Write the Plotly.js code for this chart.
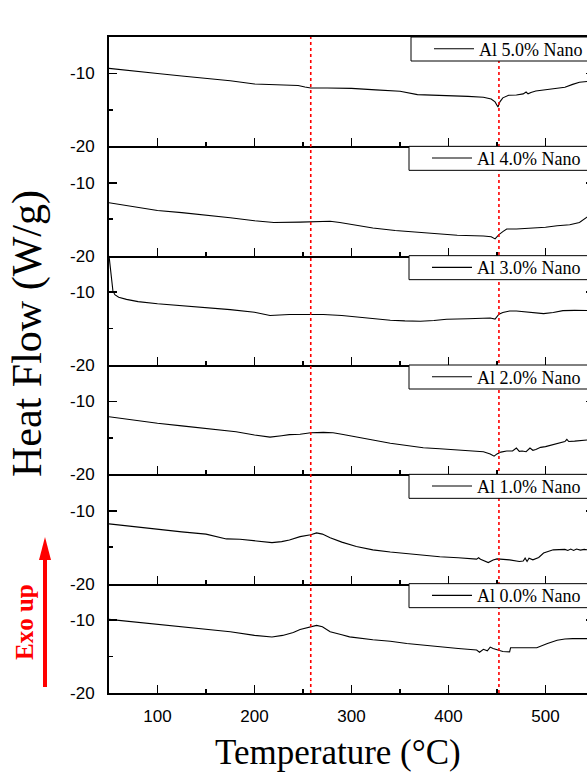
<!DOCTYPE html>
<html>
<head>
<meta charset="utf-8">
<script src="https://cdn.plot.ly/plotly-3.0.1.min.js"></script>
<style>
html, body { margin: 0; padding: 0; overflow: hidden; background: #fff; }
#chart { width: 600px; height: 772px; }
</style>
</head>
<body>
<div id="chart"></div>
<script>
// ---- data ----
const seriesNames = ["Al 0.0% Nano", "Al 1.0% Nano", "Al 2.0% Nano", "Al 3.0% Nano", "Al 4.0% Nano", "Al 5.0% Nano"];

const x00 = [50,75,100,125,150,175,200,218,229,240,247,258,264,270,278,290,298,322,340,357,374,391,410,429,432,436,440,443,446,451,456,463,464,470,480,491,502,512,520,528,543,550];
const y00 = [-9.9,-10.25,-10.6,-10.9,-11.2,-11.6,-12.1,-12.32,-12.1,-11.7,-11.3,-10.86,-10.72,-10.9,-11.6,-12.0,-12.3,-12.7,-12.9,-13.2,-13.45,-13.7,-13.9,-14.1,-14.4,-14.0,-14.2,-13.7,-13.9,-14.1,-14.3,-14.36,-13.8,-13.8,-13.8,-13.8,-13.2,-12.77,-12.6,-12.54,-12.54,-12.5];

const x10 = [50,75,100,125,150,171,185,200,218,228,236,247,258,264,270,278,290,305,322,340,357,374,391,410,425,429,431,433,441,446,450,463,473,477,479,481,483,487,493,498,508,515,520,523,526,529,532,536,540,543,550];
const y10 = [-11.8,-12.2,-12.6,-12.9,-13.2,-13.86,-13.9,-14.13,-14.37,-14.23,-14.0,-13.55,-13.3,-13.04,-13.2,-13.7,-14.3,-14.9,-15.36,-15.65,-15.9,-16.1,-16.3,-16.45,-16.6,-16.63,-16.45,-16.65,-17.1,-16.75,-16.6,-16.73,-16.95,-16.9,-16.5,-16.95,-16.5,-16.73,-16.4,-15.8,-15.36,-15.27,-15.3,-15.45,-15.25,-15.45,-15.25,-15.4,-15.3,-15.35,-15.3];

const x20 = [50,75,100,125,150,181,200,216,228,236,247,258,271,281,290,305,322,340,357,374,391,409,425,436,443,447,450,454,460,466,470,473,476,480,484,487,490,495,500,512,520,522,524,530,543,550];
const y20 = [-12.1,-12.6,-13.0,-13.35,-13.7,-14.16,-14.6,-14.9,-14.7,-14.55,-14.5,-14.3,-14.24,-14.3,-14.5,-14.84,-15.3,-15.74,-16.05,-16.35,-16.5,-16.66,-16.8,-16.9,-17.2,-17.5,-17.2,-16.95,-16.8,-16.8,-16.4,-16.85,-16.8,-16.9,-16.4,-16.7,-16.6,-16.3,-16.2,-15.75,-15.5,-15.2,-15.5,-15.45,-15.3,-15.2];

const x30 = [50,52,54,56,60,68,80,100,125,150,175,200,216,236,260,271,290,305,322,340,355,371,385,398,420,443,448,450,452,456,463,470,477,490,498,508,518,530,543,550];
const y30 = [-5.0,-7.5,-9.8,-10.35,-10.7,-11.0,-11.3,-11.6,-11.85,-12.1,-12.4,-12.77,-13.2,-13.08,-13.05,-13.08,-13.2,-13.4,-13.6,-13.86,-13.95,-14.0,-13.9,-13.73,-13.65,-13.55,-13.7,-13.4,-13.04,-12.8,-12.6,-12.6,-12.67,-12.85,-12.95,-12.8,-12.54,-12.5,-12.54,-12.55];

const x40 = [50,75,100,125,150,175,200,220,247,265,278,288,300,322,345,367,390,409,436,444,448,450,452,456,460,470,477,490,500,512,525,535,540,543,550];
const y40 = [-12.73,-13.3,-13.8,-14.1,-14.4,-14.8,-15.2,-15.45,-15.4,-15.3,-15.27,-15.46,-15.7,-16.2,-16.55,-16.8,-17.0,-17.2,-17.3,-17.4,-17.7,-17.4,-17.1,-16.7,-16.35,-16.35,-16.3,-16.2,-16.1,-15.9,-15.75,-15.45,-14.9,-14.7,-14.6];

const x50 = [50,75,100,125,150,175,200,225,245,252,258,275,300,325,350,368,400,420,436,444,448,450,451,453,456,462,470,477,480,482,485,490,497,505,512,520,528,535,543,550];
const y50 = [-9.3,-9.7,-10.0,-10.35,-10.65,-11.0,-11.45,-11.6,-11.65,-11.85,-12.0,-12.0,-12.05,-12.25,-12.45,-12.9,-13.0,-13.15,-13.27,-13.5,-13.9,-14.4,-14.6,-13.9,-13.35,-13.0,-12.95,-12.8,-12.55,-12.8,-12.6,-12.4,-12.26,-12.15,-12.0,-11.9,-11.5,-11.2,-11.1,-11.0];

const xsAll = [x00, x10, x20, x30, x40, x50];
const ysAll = [y00, y10, y20, y30, y40, y50];

const xTickVals = [100, 200, 300, 400, 500];
const xMinorVals = [150, 250, 350, 450];
const yTickVals = [-20, -10];
const yTickText = ["-20", "-10"];
const yMinorVals = [-15];
const markerTemps = [258, 452];   // red dotted reference lines
const xRange = [50, 550];
const yRange = [-20, -5];

// ---- layout geometry ----
const W = 600, H = 772;
const mL = 109, mR = 6, mT = 37, mB = 79;
const plotW = W - mL - mR, plotH = H - mT - mB;
const nP = 6;
const px2x = p => (p - mL) / plotW;
const py2y = p => (H - mB - p) / plotH;

const tickFont = { family: "Liberation Sans, Arial, sans-serif", size: 17, color: "#000" };
const serif = "Liberation Serif, Times New Roman, serif";

const traces = [];
const layout = {
  width: W, height: H,
  margin: { l: mL, r: mR, t: mT, b: mB, pad: 0 },
  paper_bgcolor: "#fff", plot_bgcolor: "#fff",
  showlegend: true,
  shapes: [], annotations: []
};

for (let i = 0; i < nP; i++) {
  const sfx = i === 0 ? "" : String(i + 1);
  const dom = [i / nP, (i + 1) / nP];
  const legName = i === 0 ? "legend" : "legend" + (i + 1);
  traces.push({
    type: "scatter", mode: "lines",
    x: xsAll[i], y: ysAll[i],
    name: seriesNames[i],
    xaxis: "x" + sfx, yaxis: "y" + sfx,
    line: { color: "#000", width: 1.1 },
    legend: legName,
    hoverinfo: "skip"
  });
  layout["xaxis" + sfx] = {
    domain: [0, 1], anchor: "y" + sfx, range: xRange,
    showline: true, linecolor: "#000", linewidth: 2, mirror: i === nP - 1,
    showgrid: false, zeroline: false,
    ticks: "inside", ticklen: 8, tickwidth: 1.5, tickcolor: "#000",
    tickmode: "array", tickvals: xTickVals,
    minor: { tickmode: "array", tickvals: xMinorVals, ticks: "inside", ticklen: 4, tickwidth: 1.5, tickcolor: "#000", showgrid: false },
    showticklabels: i === 0, tickfont: tickFont, ticklabelstandoff: 7
  };
  layout["yaxis" + sfx] = {
    domain: dom, anchor: "x" + sfx, range: yRange,
    showline: true, linecolor: "#000", linewidth: 2, mirror: "ticks",
    showgrid: false, zeroline: false,
    ticks: "inside", ticklen: 8, tickwidth: 1.5, tickcolor: "#000",
    tickmode: "array", tickvals: yTickVals, ticktext: yTickText,
    minor: { tickmode: "array", tickvals: yMinorVals, ticks: "inside", ticklen: 4, tickwidth: 1.5, tickcolor: "#000", showgrid: false },
    tickfont: tickFont, ticklabelstandoff: 9
  };
  // legend box + legend
  const topY = dom[1];
  const boxL = i === nP - 1 ? 411 : 409;
  layout.shapes.push({
    type: "rect", xref: "paper", yref: "paper",
    x0: px2x(boxL), x1: 1.05, y0: topY - 24 / plotH, y1: topY,
    line: { color: "#000", width: 1 }, fillcolor: "#fff", layer: "above"
  });
  layout[legName] = {
    x: px2x(boxL + 18), xanchor: "left",
    y: topY - 12 / plotH, yanchor: "middle",
    bgcolor: "rgba(0,0,0,0)", borderwidth: 0,
    itemwidth: 40,
    font: { family: serif, size: 18, color: "#000" },
    itemclick: false, itemdoubleclick: false
  };
}
// top axis with labels
layout.xaxis7 = {
  overlaying: "x6", anchor: "y6", side: "top", range: xRange,
  showline: false, showgrid: false, zeroline: false,
  ticks: "inside", ticklen: 8, tickwidth: 1.5, tickcolor: "#000",
  tickmode: "array", tickvals: xTickVals,
  minor: { tickmode: "array", tickvals: xMinorVals, ticks: "inside", ticklen: 4, tickwidth: 1.5, tickcolor: "#000", showgrid: false },
  showticklabels: true, tickfont: tickFont, ticklabelstandoff: 9
};

// red dotted reference lines (drawn before the legend boxes so boxes cover them)
markerTemps.forEach(t => {
  layout.shapes.unshift({
    type: "line", xref: "x", yref: "paper", x0: t, x1: t, y0: 0, y1: 1,
    line: { color: "#ff0000", width: 1.6, dash: "dot" }, layer: "above"
  });
});

// Exo up arrow
layout.shapes.push({
  type: "line", xref: "paper", yref: "paper",
  x0: px2x(45), x1: px2x(45), y0: py2y(687), y1: py2y(558),
  line: { color: "#ff0000", width: 4 }
});
layout.shapes.push({
  type: "path", xref: "paper", yref: "paper",
  path: "M " + px2x(39) + " " + py2y(560) + " L " + px2x(51) + " " + py2y(560) + " L " + px2x(45) + " " + py2y(537) + " Z",
  line: { color: "#ff0000", width: 0 }, fillcolor: "#ff0000"
});

layout.annotations.push({
  text: "Heat Flow (W/g)", xref: "paper", yref: "paper",
  x: px2x(27), y: py2y(334), xanchor: "center", yanchor: "middle",
  textangle: -90, showarrow: false,
  font: { family: serif, size: 42, color: "#000" }
});
layout.annotations.push({
  text: "Temperature (°C)", xref: "paper", yref: "paper",
  x: px2x(338), y: py2y(752), xanchor: "center", yanchor: "middle",
  showarrow: false,
  font: { family: serif, size: 35, color: "#000" }
});
layout.annotations.push({
  text: "<b>Exo up</b>", xref: "paper", yref: "paper",
  x: px2x(24), y: py2y(622), xanchor: "center", yanchor: "middle",
  textangle: -90, showarrow: false,
  font: { family: serif, size: 25, color: "#ff0000" }
});

Plotly.newPlot("chart", traces, layout, { staticPlot: true, displayModeBar: false });
</script>
</body>
</html>
